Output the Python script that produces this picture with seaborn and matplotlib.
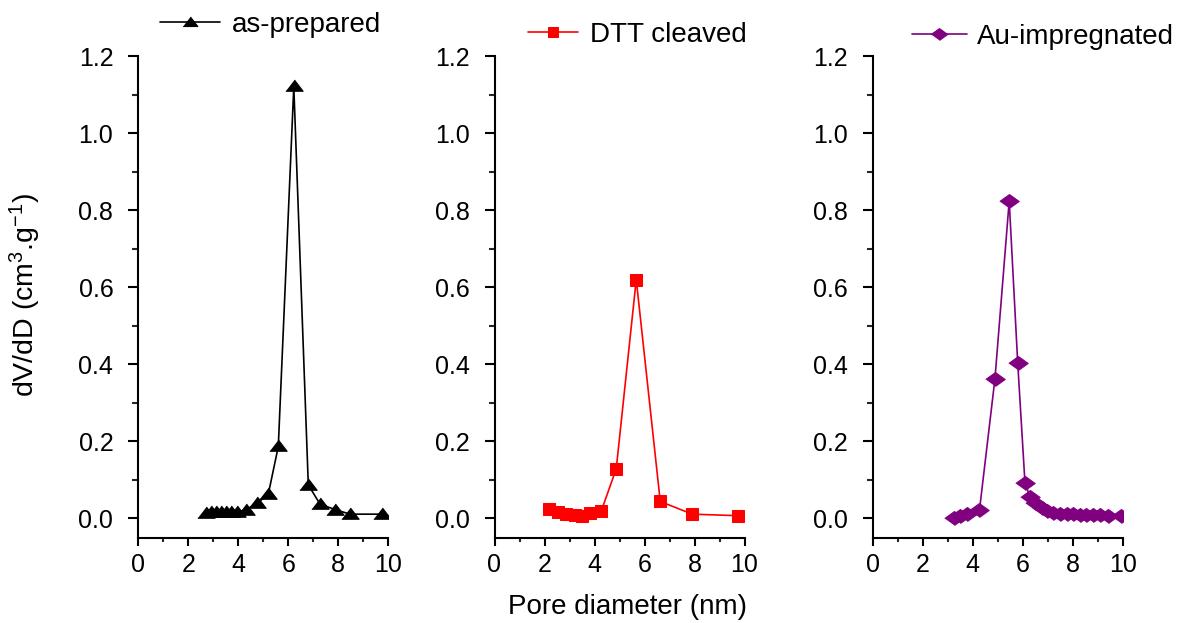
import numpy as np
import pandas as pd
import matplotlib
matplotlib.use("Agg")
import matplotlib.pyplot as plt
from matplotlib.ticker import MultipleLocator, FormatStrFormatter
import seaborn as sns

# ---- data ----
asprep_x = [2.70, 2.90, 3.10, 3.30, 3.50, 3.70, 3.95, 4.30, 4.75, 5.20, 5.60, 6.22, 6.80, 7.27, 7.87, 8.47, 9.76]
asprep_y = [0.012, 0.015, 0.016, 0.016, 0.016, 0.015, 0.016, 0.021, 0.038, 0.062, 0.186, 1.122, 0.086, 0.036, 0.022, 0.010, 0.010]

dtt_x = [2.17, 2.53, 2.87, 3.20, 3.51, 3.80, 4.27, 4.87, 5.67, 6.63, 7.91, 9.73]
dtt_y = [0.023, 0.016, 0.011, 0.009, 0.006, 0.013, 0.018, 0.128, 0.620, 0.043, 0.010, 0.006]

au_x = [3.27, 3.49, 3.76, 4.27, 4.89, 5.46, 5.80, 6.09, 6.29, 6.49, 6.76, 6.96, 7.23, 7.49,
        7.76, 8.02, 8.29, 8.55, 8.82, 9.09, 9.42, 9.95]
au_y = [0.001, 0.006, 0.010, 0.020, 0.362, 0.824, 0.404, 0.092, 0.055, 0.040, 0.026, 0.018, 0.013, 0.011,
        0.010, 0.010, 0.009, 0.008, 0.008, 0.007, 0.006, 0.005]

labels = ["as-prepared", "DTT cleaved", "Au-impregnated"]
x_ticks = [0, 2, 4, 6, 8, 10]
y_ticks = [0.0, 0.2, 0.4, 0.6, 0.8, 1.0, 1.2]

sns.set_style("ticks")
plt.rcParams['font.family'] = ['Liberation Sans', 'DejaVu Sans']
plt.rcParams['mathtext.fontset'] = 'custom'
plt.rcParams['mathtext.rm'] = 'Liberation Sans'
plt.rcParams['mathtext.it'] = 'Liberation Sans:italic'
plt.rcParams['mathtext.bf'] = 'Liberation Sans:bold'
plt.rcParams['text.color'] = 'black'
plt.rcParams['axes.labelcolor'] = 'black'

W, H = 1182, 623
fig = plt.figure(figsize=(W / 100, H / 100), dpi=100)

tri = [(-1, -0.55), (1, -0.55), (0, 0.75)]
dia = [(-1, 0), (0, 0.72), (1, 0), (0, -0.72)]

panels = [
    dict(x=asprep_x, y=asprep_y, color="black", marker=tri, ms=12.5, left=138.3,
         leg=(160, 25), hl=2.15, htp=0.42),
    dict(x=dtt_x, y=dtt_y, color="#ff0000", marker="s", ms=8.5, left=494.5,
         leg=(528, 35), hl=1.8, htp=0.43),
    dict(x=au_x, y=au_y, color="#800080", marker=dia, ms=14, left=872.7,
         leg=(911.7, 37), hl=1.98, htp=0.37),
]

top_px, bot_px = 56.5, 538.0
for p, lab in zip(panels, labels):
    ax = fig.add_axes([p["left"] / W, (H - bot_px) / H, 250 / W, (bot_px - top_px) / H])
    df = pd.DataFrame({"x": p["x"], "y": p["y"]})
    sns.lineplot(data=df, x="x", y="y", ax=ax, sort=False, color=p["color"],
                 marker=p["marker"], markersize=p["ms"], markeredgecolor=p["color"],
                 markerfacecolor=p["color"], linewidth=1.2, label=lab)
    ax.set_xlim(0, 10)
    ax.set_ylim(-0.052, 1.2)
    ax.set_xticks(x_ticks)
    ax.set_yticks(y_ticks)
    ax.xaxis.set_minor_locator(MultipleLocator(1))
    ax.yaxis.set_minor_locator(MultipleLocator(0.1))
    ax.yaxis.set_major_formatter(FormatStrFormatter('%.1f'))
    ax.set_xlabel("")
    ax.set_ylabel("")
    for s in ["top", "right"]:
        ax.spines[s].set_visible(False)
    for s in ["left", "bottom"]:
        ax.spines[s].set_linewidth(1.5)
        ax.spines[s].set_color("black")
    ax.tick_params(axis="x", which="major", direction="out", length=6, width=1.5,
                   labelsize=18, pad=5, colors="black")
    ax.tick_params(axis="x", which="minor", direction="out", length=3, width=1.5)
    ax.tick_params(axis="y", which="major", direction="out", length=7, width=1.5,
                   labelsize=18, pad=11, colors="black")
    ax.tick_params(axis="y", which="minor", direction="out", length=4, width=1.5)
    ax.patch.set_alpha(0)
    lx, ly = p["leg"]
    ax.legend(loc="center left", bbox_to_anchor=(lx / W, 1 - ly / H),
              bbox_transform=fig.transFigure, frameon=False, fontsize=20,
              borderpad=0, borderaxespad=0, handlelength=p["hl"],
              handletextpad=p["htp"], markerscale=0.85)

fig.text(25 / W, 1 - 295 / H, r"dV/dD (cm$\mathregular{^{3}}$.g$\mathregular{^{-1}}$)", rotation=90,
         ha="center", va="center", fontsize=20.5)
fig.text(628 / W, 1 - 607 / H, "Pore diameter (nm)", ha="center", va="center", fontsize=20)

fig.savefig("out.png", dpi=100)
